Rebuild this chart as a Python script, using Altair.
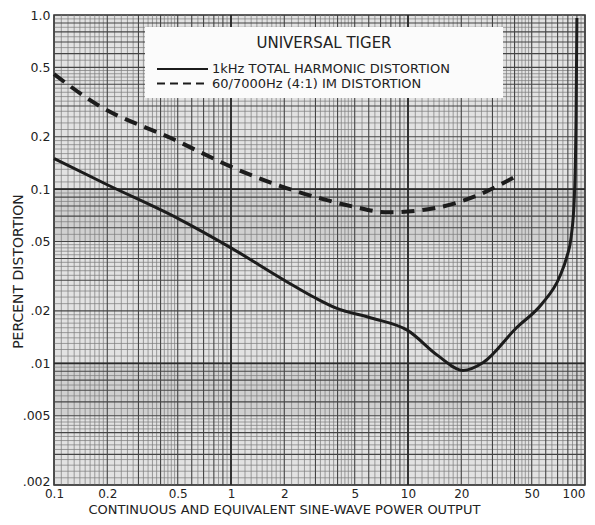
import altair as alt
import pandas as pd

# ---- data ----
thd_power = [0.1, 0.2, 0.5, 1, 2, 3, 3.9, 6.2, 10, 14.7, 20.5, 26.6, 41, 57, 72, 79, 83.5, 87, 89, 90]
thd_dist = [0.15, 0.106, 0.068, 0.046, 0.030, 0.0237, 0.0208, 0.0182, 0.0154, 0.0111, 0.0091, 0.0101,
            0.016, 0.0219, 0.0315, 0.041, 0.053, 0.089, 0.25, 0.96]

im_power = [0.1, 0.18, 0.46, 1.14, 2.28, 3.4, 5, 7.7, 14, 24.6, 41]
im_dist = [0.457, 0.301, 0.196, 0.127, 0.098, 0.087, 0.079, 0.0736, 0.0776, 0.092, 0.119]

x_ticks = [0.1, 0.2, 0.5, 1, 2, 5, 10, 20, 50, 100]
y_ticks = [0.002, 0.005, 0.01, 0.02, 0.05, 0.1, 0.2, 0.5, 1.0]
y_labels = [".002", ".005", ".01", ".02", ".05", "0.1", "0.2", "0.5", "1.0"]

legend_title = "UNIVERSAL TIGER"
legend_items = ["1kHz TOTAL HARMONIC DISTORTION", "60/7000Hz (4:1) IM DISTORTION"]

# graph-paper grid positions
decades_x = [0.1, 1, 10]
decades_y = [0.001, 0.01, 0.1]
mults = [1, 2, 3, 4, 5, 6, 7, 8, 9]
fine = [1.1, 1.2, 1.3, 1.4, 1.5, 1.6, 1.7, 1.8, 1.9, 2.2, 2.4, 2.6, 2.8, 3.2, 3.4, 3.6, 3.8,
        4.2, 4.4, 4.6, 4.8, 5.5, 6.5, 7.5, 8.5, 9.5]

FONT = "DejaVu Sans"
INK = "#1c1c1c"

xs = alt.Scale(type="log", domain=[0.1, 100])
ys = alt.Scale(type="log", domain=[0.002, 1.0])

x_label_expr = "datum.value < 1 ? format(datum.value, '.1f') : format(datum.value, 'd')"
y_label_expr = ("datum.value <= 0.0021 ? '.002' : datum.value <= 0.0051 ? '.005' : datum.value <= 0.011 ? '.01' : "
                "datum.value <= 0.021 ? '.02' : datum.value <= 0.051 ? '.05' : datum.value <= 0.11 ? '0.1' : "
                "datum.value <= 0.21 ? '0.2' : datum.value <= 0.51 ? '0.5' : '1.0'")

X_TITLE = "CONTINUOUS AND EQUIVALENT SINE-WAVE POWER OUTPUT"
Y_TITLE = "PERCENT DISTORTION"

x_axis = alt.Axis(
    values=x_ticks, labelExpr=x_label_expr, grid=False, ticks=False, domain=False,
    labelFont=FONT, labelFontSize=12, labelColor="#222", labelPadding=3,
    labelAlign={"expr": "datum.value >= 100 ? 'right' : 'center'"},
    title=X_TITLE,
    titleFont=FONT, titleFontSize=13, titleFontWeight="normal", titleColor="#222",
    titleAnchor="start", titleX=34, titleY=28.5, titleBaseline="alphabetic")
y_axis = alt.Axis(
    values=y_ticks, labelExpr=y_label_expr, grid=False, ticks=False, domain=False,
    labelFont=FONT, labelFontSize=12.5, labelColor="#222", labelPadding=4,
    labelBaseline={"expr": "datum.value < 0.0025 ? 'alphabetic' : 'middle'"},
    title=Y_TITLE, titleFont=FONT, titleFontSize=14,
    titleFontWeight="normal", titleColor="#222", titleX=-29, titleY=256, titleAngle=270)


def X(f):
    return alt.X(f, scale=xs, axis=x_axis, title=X_TITLE)


def Y(f):
    return alt.Y(f, scale=ys, axis=y_axis, title=Y_TITLE)


gx_major = pd.DataFrame({"v": [d * m for d in decades_x for m in mults] + [100]})
gy_major = pd.DataFrame({"v": [d * m for d in decades_y for m in mults if 0.002 <= d * m <= 1.0]})
gx_fine = pd.DataFrame({"v": [d * f for d in decades_x for f in fine]})
gy_fine = pd.DataFrame({"v": [d * f for d in decades_y for f in fine if 0.002 <= d * f <= 1.0]})
gx_dec = pd.DataFrame({"v": [1, 10]})
gy_dec = pd.DataFrame({"v": [0.01, 0.1]})
bands = pd.DataFrame({"a": [0.05, 0.005], "b": [0.1, 0.01]})

thd = pd.DataFrame({"p": thd_power, "d": thd_dist})
im = pd.DataFrame({"p": im_power, "d": im_dist})

band_layer = alt.Chart(bands).mark_rect(color="#000", opacity=0.08).encode(y=Y("a:Q"), y2="b:Q")

fine_x = alt.Chart(gx_fine).mark_rule(color="#7a7a7a", strokeWidth=0.7).encode(x=X("v:Q"))
fine_y = alt.Chart(gy_fine).mark_rule(color="#7a7a7a", strokeWidth=0.7).encode(y=Y("v:Q"))
maj_x = alt.Chart(gx_major).mark_rule(color="#444", strokeWidth=1.1).encode(x=X("v:Q"))
maj_y = alt.Chart(gy_major).mark_rule(color="#444", strokeWidth=1.1).encode(y=Y("v:Q"))
dec_x = alt.Chart(gx_dec).mark_rule(color="#2a2a2a", strokeWidth=1.8).encode(x=X("v:Q"))
dec_y = alt.Chart(gy_dec).mark_rule(color="#2a2a2a", strokeWidth=1.8).encode(y=Y("v:Q"))

thd_line = alt.Chart(thd).mark_line(color=INK, strokeWidth=3, interpolate="monotone").encode(
    x=X("p:Q"), y=Y("d:Q"))
im_line = alt.Chart(im).mark_line(color=INK, strokeWidth=4, strokeDash=[13, 8],
                                  interpolate="monotone").encode(x=X("p:Q"), y=Y("d:Q"))

# legend box
box = alt.Chart(pd.DataFrame({"t": [legend_title]})).mark_rect(color="#fbfbfb").encode(
    x=alt.value(91), x2=alt.value(449), y=alt.value(12), y2=alt.value(83))
title_txt = alt.Chart(pd.DataFrame({"t": [legend_title]})).mark_text(
    font=FONT, fontSize=15, color="#222", align="center", baseline="middle").encode(
    text="t:N", x=alt.value(270), y=alt.value(28))
sample_solid = alt.Chart(pd.DataFrame({"t": [legend_items[0]]})).mark_rule(
    color=INK, strokeWidth=2).encode(x=alt.value(103), x2=alt.value(154), y=alt.value(54))
sample_dash = alt.Chart(pd.DataFrame({"t": [legend_items[1]]})).mark_rule(
    color=INK, strokeWidth=2, strokeDash=[8, 5]).encode(x=alt.value(103), x2=alt.value(154), y=alt.value(68.5))
item1 = alt.Chart(pd.DataFrame({"t": [legend_items[0]]})).mark_text(
    font=FONT, fontSize=13, color="#222", align="left", baseline="middle").encode(
    text="t:N", x=alt.value(158), y=alt.value(53.5))
item2 = alt.Chart(pd.DataFrame({"t": [legend_items[1]]})).mark_text(
    font=FONT, fontSize=13, color="#222", align="left", baseline="middle").encode(
    text="t:N", x=alt.value(158), y=alt.value(68.5))

chart = alt.layer(
    band_layer, fine_x, fine_y, maj_x, maj_y, dec_x, dec_y, thd_line, im_line,
    box, title_txt, sample_solid, sample_dash, item1, item2
).properties(
    width=531, height=470,
    autosize=alt.AutoSizeParams(type="none"),
    padding={"left": 46, "top": 7, "right": 2, "bottom": 32},
    background="white",
).configure_view(fill="#e2e2e2", stroke="#2a2a2a", strokeWidth=1.5)

chart.save("out.html", embed_options={"renderer": "svg", "actions": False})
